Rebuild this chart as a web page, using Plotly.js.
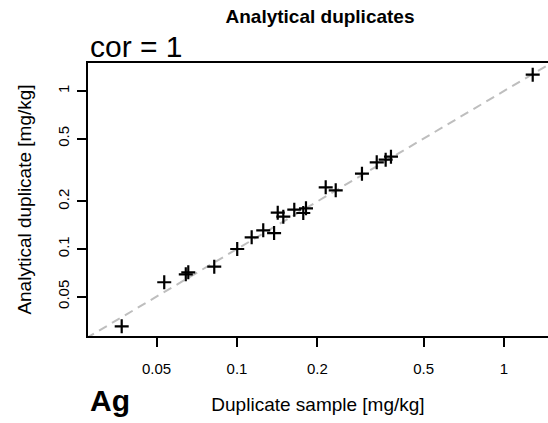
<!DOCTYPE html>
<html>
<head>
<meta charset="utf-8">
<script src="https://cdn.plot.ly/plotly-3.0.1.min.js"></script>
<style>html,body{margin:0;padding:0;background:#fff;}#chart{width:548px;height:423px;}</style>
</head>
<body>
<div id="chart"></div>
<script>
// Duplicate sample [mg/kg] (x) vs analytical duplicate [mg/kg] (y)
const duplicateSample = [0.0370, 0.0534, 0.0643, 0.0657, 0.0822, 0.1002, 0.1135, 0.1254, 0.1377, 0.1421,
  0.1491, 0.1639, 0.1771, 0.1813, 0.2149, 0.2343, 0.2938, 0.3337, 0.3604, 0.3773, 1.281];
const analyticalDuplicate = [0.0324, 0.0616, 0.0691, 0.0712, 0.0773, 0.100, 0.1186, 0.1313, 0.1262, 0.1698,
  0.1601, 0.1773, 0.169, 0.181, 0.2458, 0.2352, 0.2997, 0.3538, 0.3674, 0.3838, 1.268];
// identity (1:1) reference line extent
const identityLine = [0.01, 10];
const tickVals = [0.05, 0.1, 0.2, 0.5, 1];
const tickText = ["0.05", "0.1", "0.2", "0.5", "1"];
const element = "Ag";
const corText = "cor = 1";

const FONT = '"Liberation Sans", Arial, Helvetica, sans-serif';

const traces = [
  {
    x: identityLine, y: identityLine, type: 'scatter', mode: 'lines',
    line: {color: '#BEBEBE', width: 2, dash: '9px,6px'},
    hoverinfo: 'skip', showlegend: false
  },
  {
    x: duplicateSample, y: analyticalDuplicate, type: 'scatter', mode: 'markers',
    marker: {symbol: 'cross-thin', size: 10, color: '#000', line: {color: '#000', width: 2.2}},
    showlegend: false
  }
];

const layout = {
  width: 548, height: 423,
  margin: {l: 88, r: 0, t: 63, b: 87},
  paper_bgcolor: '#fff', plot_bgcolor: '#fff',
  font: {family: FONT, color: '#000', size: 15},
  title: {
    text: '<b>Analytical duplicates</b>',
    font: {family: FONT, size: 19, color: '#000'},
    x: 320/548, xanchor: 'center', xref: 'container',
    y: 1 - 16/423, yanchor: 'middle', yref: 'container'
  },
  xaxis: {
    type: 'log',
    range: [-1.558, 0.1648],
    tickmode: 'array', tickvals: tickVals, ticktext: tickText,
    ticks: 'outside', ticklen: 9, tickwidth: 2, tickcolor: '#000',
    ticklabelstandoff: 9,
    showline: true, linecolor: '#000', linewidth: 2, mirror: true,
    showgrid: false, zeroline: false,
    tickfont: {size: 15, family: FONT, color: '#000'},
    title: {text: 'Duplicate sample [mg/kg]', font: {size: 19, family: FONT, color: '#000'}, standoff: 22}
  },
  yaxis: {
    type: 'log',
    range: [-1.5506, 0.1772],
    tickmode: 'array', tickvals: tickVals, ticktext: tickText,
    ticks: 'outside', ticklen: 9, tickwidth: 2, tickcolor: '#000',
    tickangle: -90, ticklabelstandoff: 2,
    showline: true, linecolor: '#000', linewidth: 2, mirror: false,
    showgrid: false, zeroline: false,
    tickfont: {size: 15, family: FONT, color: '#000'},
    title: {text: 'Analytical duplicate [mg/kg]', font: {size: 19, family: FONT, color: '#000'}, standoff: 18}
  },
  annotations: [
    {
      text: corText, xref: 'paper', yref: 'paper', x: 0, y: 1,
      xanchor: 'left', yanchor: 'bottom', xshift: 0, yshift: -2,
      showarrow: false, font: {family: FONT, size: 30, color: '#000'}
    },
    {
      text: '<b>' + element + '</b>', xref: 'paper', yref: 'paper', x: 0, y: 0,
      xanchor: 'left', yanchor: 'top', xshift: 0, yshift: -46,
      showarrow: false, font: {family: FONT, size: 30, color: '#000'}
    }
  ]
};

Plotly.newPlot('chart', traces, layout, {displayModeBar: false, staticPlot: true});
</script>
</body>
</html>
